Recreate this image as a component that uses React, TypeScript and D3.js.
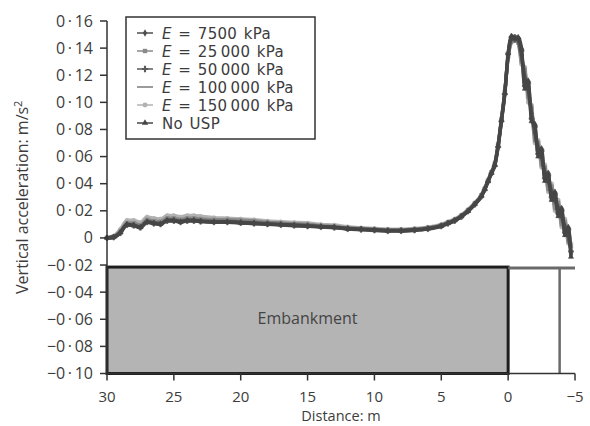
import React from 'react';
import * as d3 from 'd3';

// distance along track (m), shared by all series
const distance = [
  30, 29.5, 29, 28.5, 28, 27.5, 27, 26.5, 26, 25.5, 25, 24.5, 24, 23.5, 23,
  22, 21, 20, 19, 18, 17, 16, 15, 14, 13, 12, 11, 10, 9, 8, 7, 6, 5,
  4.5, 4, 3.5, 3, 2.5, 2, 1.75, 1.5, 1.25, 1, 0.75, 0.5, 0.25, 0,
  -0.25, -0.5, -0.75, -1, -1.25, -1.5, -1.75, -2, -2.25, -2.5, -2.75, -3,
  -3.25, -3.5, -3.75, -4, -4.25, -4.5, -4.7,
];

const e7500 = [
  0, 0.0005, 0.004, 0.010, 0.0095, 0.008, 0.012, 0.011, 0.0105, 0.013, 0.013, 0.012, 0.013, 0.013, 0.0125,
  0.012, 0.012, 0.0115, 0.011, 0.0105, 0.010, 0.0095, 0.009, 0.0085, 0.008, 0.007, 0.0065, 0.006, 0.0055, 0.0055, 0.006, 0.007, 0.009,
  0.011, 0.013, 0.016, 0.020, 0.025, 0.031, 0.036, 0.042, 0.048, 0.054, 0.068, 0.087, 0.107, 0.135,
  0.147, 0.148, 0.146, 0.135, 0.118, 0.110, 0.092, 0.078, 0.066, 0.060, 0.048, 0.042,
  0.034, 0.028, 0.022, 0.016, 0.008, 0.002, -0.012,
];
const e25000 = [
  0, 0.001, 0.005, 0.011, 0.011, 0.0095, 0.0135, 0.0125, 0.012, 0.0145, 0.0145, 0.0135, 0.0145, 0.0145, 0.014,
  0.0135, 0.0135, 0.013, 0.0125, 0.0115, 0.011, 0.0105, 0.010, 0.009, 0.0085, 0.0075, 0.007, 0.0065, 0.006, 0.006, 0.0065, 0.0075, 0.0095,
  0.0115, 0.0135, 0.0165, 0.0205, 0.0255, 0.0315, 0.0365, 0.0425, 0.0485, 0.055, 0.069, 0.088, 0.108, 0.134,
  0.145, 0.147, 0.144, 0.130, 0.124, 0.104, 0.096, 0.072, 0.070, 0.054, 0.052, 0.036,
  0.038, 0.022, 0.026, 0.010, 0.012, -0.002, -0.006,
];
const e50000 = [
  0, 0.0005, 0.0035, 0.0095, 0.009, 0.0075, 0.0115, 0.0105, 0.010, 0.0125, 0.0125, 0.0115, 0.0125, 0.0125, 0.012,
  0.0115, 0.0115, 0.011, 0.0105, 0.010, 0.0095, 0.009, 0.0085, 0.008, 0.0075, 0.0065, 0.006, 0.0055, 0.005, 0.005, 0.0055, 0.0065, 0.0085,
  0.0105, 0.0125, 0.0155, 0.0195, 0.0245, 0.0305, 0.0355, 0.0415, 0.0475, 0.053, 0.067, 0.086, 0.106, 0.136,
  0.148, 0.146, 0.147, 0.138, 0.112, 0.114, 0.088, 0.082, 0.062, 0.064, 0.044, 0.046,
  0.030, 0.032, 0.018, 0.020, 0.004, 0.006, -0.010,
];
const e100000 = [
  0, 0.001, 0.0045, 0.0105, 0.010, 0.0085, 0.0125, 0.0115, 0.011, 0.0135, 0.0135, 0.0125, 0.0135, 0.0135, 0.013,
  0.0125, 0.0125, 0.012, 0.0115, 0.011, 0.0105, 0.010, 0.0095, 0.0085, 0.008, 0.0072, 0.0067, 0.0062, 0.0057, 0.0057, 0.0062, 0.0072, 0.0092,
  0.0112, 0.0132, 0.0162, 0.0202, 0.0252, 0.0312, 0.0362, 0.0422, 0.0482, 0.054, 0.068, 0.087, 0.107, 0.133,
  0.146, 0.149, 0.145, 0.133, 0.120, 0.106, 0.094, 0.075, 0.068, 0.057, 0.050, 0.039,
  0.036, 0.025, 0.024, 0.013, 0.010, 0.000, -0.008,
];
const e150000 = [
  0.0005, 0.0015, 0.0065, 0.013, 0.013, 0.0115, 0.0155, 0.0145, 0.014, 0.0165, 0.0165, 0.0155, 0.0165, 0.0165, 0.016,
  0.015, 0.0145, 0.014, 0.0135, 0.0125, 0.012, 0.0115, 0.011, 0.0100, 0.0095, 0.0082, 0.0075, 0.007, 0.0065, 0.0065, 0.007, 0.008, 0.010,
  0.012, 0.014, 0.017, 0.021, 0.026, 0.032, 0.037, 0.043, 0.049, 0.055, 0.069, 0.088, 0.108, 0.133,
  0.144, 0.146, 0.145, 0.128, 0.126, 0.100, 0.098, 0.070, 0.072, 0.052, 0.054, 0.034,
  0.040, 0.020, 0.028, 0.008, 0.014, -0.004, -0.004,
];
const noUsp = [
  0, 0.0005, 0.004, 0.0098, 0.0092, 0.0078, 0.0118, 0.0108, 0.0102, 0.0128, 0.0128, 0.0118, 0.0128, 0.0128, 0.0122,
  0.0118, 0.0118, 0.0112, 0.0108, 0.0102, 0.0098, 0.0092, 0.0088, 0.0082, 0.0078, 0.0068, 0.0063, 0.0058, 0.0053, 0.0053, 0.0058, 0.0068, 0.0088,
  0.0108, 0.0128, 0.0158, 0.0198, 0.0248, 0.0308, 0.0358, 0.0418, 0.0478, 0.054, 0.068, 0.087, 0.107, 0.136,
  0.149, 0.147, 0.148, 0.140, 0.110, 0.116, 0.086, 0.084, 0.060, 0.066, 0.042, 0.048,
  0.028, 0.034, 0.016, 0.022, 0.002, 0.008, -0.014,
];

const seriesNames = [
  ['7500 kPa', e7500],
  ['25\u2009000 kPa', e25000],
  ['50\u2009000 kPa', e50000],
  ['100\u2009000 kPa', e100000],
  ['150\u2009000 kPa', e150000],
  ['No USP', noUsp],
] as const;

const seriesColours = ['#4e4e4e', '#8a8a8a', '#5a5a5a', '#7a7a7a', '#b2b2b2', '#464646'];
const seriesMarkers = ['diamond', 'square', 'cross', 'none', 'circle', 'triangle'];
// light series first so the dark ones sit on top
const drawOrder = [4, 1, 3, 2, 0, 5];

const yTicks = [0.16, 0.14, 0.12, 0.10, 0.08, 0.06, 0.04, 0.02, 0, -0.02, -0.04, -0.06, -0.08, -0.10];
const xTicks = [30, 25, 20, 15, 10, 5, 0, -5];

const embankmentTop = -0.0215;
const embankmentEnd = 0;
const postDistance = -3.85;

const font = '"Open Sans", "Noto Sans", sans-serif';
const legendFont = '"DejaVu Sans", sans-serif';
const textColour = '#3c3c3c';

const fmtY = (v: number) => {
  if (v === 0) return '0';
  const s = Math.abs(v).toFixed(2).replace('.', '\u2009·\u2009');
  return (v < 0 ? '\u2212' : '') + s;
};
const fmtX = (v: number) => (v < 0 ? '\u2212' + Math.abs(v) : String(v));

const symbolFor = (m: string, k = 1) => {
  if (m === 'diamond') return d3.symbol(d3.symbolDiamond, 10 * k)();
  if (m === 'square') return d3.symbol(d3.symbolSquare, 12 * k)();
  if (m === 'cross') return d3.symbol(d3.symbolCross, 14 * k)();
  if (m === 'circle') return d3.symbol(d3.symbolCircle, 12 * k)();
  if (m === 'triangle') return d3.symbol(d3.symbolTriangle, 11 * k)();
  return null;
};

const App = () => {
  const width = 590;
  const height = 426;
  const margin = { top: 21, right: 15, bottom: 52.5, left: 107 };

  const x = d3.scaleLinear().domain([30, -5]).range([margin.left, width - margin.right]);
  const y = d3.scaleLinear().domain([-0.10, 0.16]).range([height - margin.bottom, margin.top]);

  const line = d3.line<number>()
    .x((_, i) => x(distance[i]))
    .y(d => y(d))
    .curve(d3.curveMonotoneX);

  const x0 = x(30);
  const y0 = y(-0.10);

  return (
    <svg width={width} height={height} style={{ position: 'absolute', left: 0, top: 0, fontFamily: font }}>
      <rect width={width} height={height} fill="#fff" />

      {/* embankment */}
      <rect x={x(30)} y={y(embankmentTop)} width={x(embankmentEnd) - x(30)} height={y(-0.10) - y(embankmentTop)}
        fill="#b4b4b4" stroke="#1e1e1e" strokeWidth={3} />
      <text x={(x(30) + x(embankmentEnd)) / 2} y={y(-0.06) + 5} textAnchor="middle" fontSize={16} fill="#444">Embankment</text>
      <line x1={x(embankmentEnd)} x2={x(-5)} y1={y(embankmentTop) + 1} y2={y(embankmentTop) + 1} stroke="#6a6a6a" strokeWidth={3} />
      <line x1={x(postDistance)} x2={x(postDistance)} y1={y(embankmentTop) + 1} y2={y0} stroke="#6a6a6a" strokeWidth={2.5} />

      {/* series */}
      {drawOrder.map(si => {
        const vals = seriesNames[si][1] as readonly number[];
        const sym = symbolFor(seriesMarkers[si]);
        return (
          <g key={si}>
            <path d={line(vals as number[]) || ''} fill="none" stroke={seriesColours[si]} strokeWidth={3.4} strokeLinejoin="round" />
            {sym && vals.map((v, i) => (
              <path key={i} d={sym} transform={`translate(${x(distance[i])},${y(v)})`} fill={seriesColours[si]} stroke={seriesColours[si]} strokeWidth={0.6} />
            ))}
          </g>
        );
      })}

      {/* axes */}
      <line x1={x0} x2={x0} y1={y(0.16)} y2={y0} stroke="#333" strokeWidth={1.5} />
      <line x1={x0} x2={x(-5)} y1={y0} y2={y0} stroke="#333" strokeWidth={1.5} />
      {yTicks.map(t => (
        <g key={t}>
          <line x1={x0 - 7} x2={x0} y1={y(t)} y2={y(t)} stroke="#333" strokeWidth={1.5} />
          <text x={x0 - 14} y={y(t) + 5.5} textAnchor="end" fontSize={16} fill={textColour}>{fmtY(t)}</text>
        </g>
      ))}
      {xTicks.map(t => (
        <g key={t}>
          <line x1={x(t)} x2={x(t)} y1={y0} y2={y0 + 7} stroke="#333" strokeWidth={1.5} />
          <text x={x(t)} y={402} textAnchor="middle" fontSize={15} fill={textColour}>{fmtX(t)}</text>
        </g>
      ))}
      <text x={(x0 + x(-5)) / 2} y={421} textAnchor="middle" fontSize={14.5} fill={textColour}>Distance: m</text>
      <text transform={`translate(28,${(y(0.16) + y0) / 2}) rotate(-90)`} textAnchor="middle" fontSize={16} fill={textColour}>
        Vertical acceleration: m/s<tspan dy={-6} fontSize={11}>2</tspan>
      </text>

      {/* legend */}
      <rect x={126} y={17} width={189} height={122} fill="#fff" stroke="#333" strokeWidth={1.5} />
      {seriesNames.map(([label], i) => {
        const ly = 33 + i * 18;
        const sym = symbolFor(seriesMarkers[i], 1.6);
        return (
          <g key={i}>
            <line x1={137} x2={153} y1={ly} y2={ly} stroke={seriesColours[i]} strokeWidth={1.5} />
            {sym && <path d={sym} transform={`translate(145,${ly})`} fill={seriesColours[i]} />}
            <text x={162} y={ly + 5.5} fontSize={15} fontFamily={legendFont} letterSpacing={0.3} wordSpacing={1.5} fill={textColour}>
              {i === 5 ? label : (<><tspan fontStyle="italic">E</tspan>{' = ' + label}</>)}
            </text>
          </g>
        );
      })}
    </svg>
  );
};

export default App;
